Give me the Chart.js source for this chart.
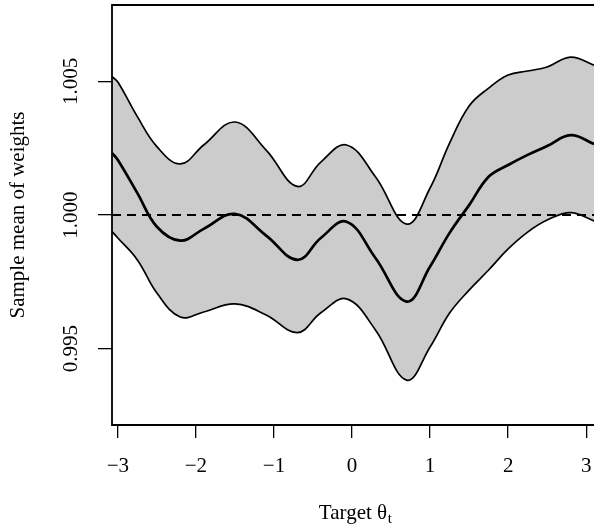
<!DOCTYPE html>
<html><head><meta charset="utf-8">
<script src="https://cdn.jsdelivr.net/npm/chart.js@4/dist/chart.umd.min.js"></script>
<style>html,body{margin:0;padding:0;background:#fff}</style>
</head><body>
<canvas id="c" width="594" height="529" style="display:block;width:594px;height:529px"></canvas>
<script>
const theta = [-3.075,-3.0,-2.75,-2.5,-2.2,-1.9,-1.5,-1.1,-0.7,-0.4,-0.07,0.3,0.7,1.0,1.25,1.5,1.75,2.0,2.25,2.5,2.8,3.1];
const upperBand = [1.00518,1.00498,1.00368,1.00256,1.00191,1.00262,1.00348,1.00243,1.00107,1.00198,1.00262,1.00143,0.99966,1.00101,1.00269,1.00408,1.00475,1.00524,1.00539,1.00554,1.00591,1.00561];
const meanWeights = [1.00232,1.00206,1.00082,0.99956,0.99904,0.99948,1.00004,0.99923,0.99832,0.99914,0.99975,0.99839,0.99676,0.99807,0.99933,1.00037,1.00143,1.00187,1.00225,1.00258,1.00299,1.00266];
const lowerBand = [0.99938,0.99914,0.99832,0.99708,0.99618,0.99637,0.99667,0.99626,0.99560,0.99634,0.99686,0.99570,0.99382,0.99506,0.99633,0.99719,0.99794,0.99873,0.99936,0.99981,1.00009,0.99978];
const refLevel = 1.0;
const xRange = [-3.075, 3.10];
const yRange = [0.99214, 1.00786];
const xTickValues = [-3,-2,-1,0,1,2,3];
const xTickLabels = ['\u22123','\u22122','\u22121','0','1','2','3'];
const yTickValues = [0.995,1.000,1.005];
const yTickLabels = ['0.995','1.000','1.005'];
const xTitle = 'Target \u03B8';
const xTitleSub = 't';
const yTitle = 'Sample mean of weights';

const FONT = 'Liberation Serif';
const pts = arr => theta.map((t,i)=>({x:t,y:arr[i]}));

const boxPlugin = {
  id:'box',
  afterDraw(chart){
    const {ctx, chartArea:a} = chart;
    ctx.save();
    ctx.strokeStyle='#000'; ctx.lineWidth=1.8;
    ctx.beginPath();
    ctx.moveTo(chart.width+2, a.top); ctx.lineTo(a.left, a.top);
    ctx.lineTo(a.left, a.bottom); ctx.lineTo(chart.width+2, a.bottom);
    ctx.stroke();
    const xs = chart.scales.x;
    ctx.font = '21px "'+FONT+'"';
    const w = ctx.measureText(xTitle).width;
    const cx = (xs.left+xs.right)/2;
    const ty = xs.bottom - 3 - 12.6;
    ctx.font = '15px "'+FONT+'"';
    ctx.fillStyle='#000'; ctx.textBaseline='middle'; ctx.textAlign='left';
    ctx.fillText(xTitleSub, cx + w/2 + 0.5, ty + 6);
    ctx.restore();
  }
};

new Chart(document.getElementById('c'), {
  type:'line',
  data:{datasets:[
    {label:'upper', data:pts(upperBand), borderColor:'#000', borderWidth:1.7, backgroundColor:'rgb(204,204,204)', fill:1, pointRadius:0, tension:0.4},
    {label:'lower', data:pts(lowerBand), borderColor:'#000', borderWidth:1.7, fill:false, pointRadius:0, tension:0.4},
    {label:'mean', data:pts(meanWeights), borderColor:'#000', borderWidth:2.7, fill:false, pointRadius:0, tension:0.4},
    {label:'reference', data:[{x:xRange[0],y:refLevel},{x:xRange[1],y:refLevel}], borderColor:'#000', borderWidth:1.8, borderDash:[9,6], fill:false, pointRadius:0}
  ]},
  options:{
    responsive:false, animation:false, devicePixelRatio:1,
    layout:{padding:{left:0,right:0,top:5,bottom:0}},
    plugins:{legend:{display:false}, tooltip:{enabled:false}, filler:{drawTime:'beforeDatasetsDraw'}},
    scales:{
      x:{type:'linear', min:xRange[0], max:xRange[1],
        afterBuildTicks:s=>{s.ticks = xTickValues.map(v=>({value:v}));},
        afterFit:s=>{s.height=104; s.paddingLeft=0; s.paddingRight=0;},
        ticks:{autoSkip:false, maxRotation:0, minRotation:0, padding:16, color:'#000', font:{family:FONT,size:21},
          callback:v=>{const i=xTickValues.indexOf(v); return i>=0?xTickLabels[i]:'';}},
        grid:{drawOnChartArea:false, drawTicks:true, tickLength:13, color:'#000', lineWidth:1.3},
        border:{display:false},
        title:{display:true, text:xTitle, color:'#000', font:{family:FONT,size:21}, padding:{top:0,bottom:3}}
      },
      y:{type:'linear', min:yRange[0], max:yRange[1],
        afterBuildTicks:s=>{s.ticks = yTickValues.map(v=>({value:v}));},
        afterFit:s=>{s.width=112; s.paddingTop=0; s.paddingBottom=0;},
        ticks:{autoSkip:false, minRotation:90, maxRotation:90, crossAlign:'center', padding:2.4, color:'#000', font:{family:FONT,size:21},
          callback:v=>{const i=yTickValues.findIndex(t=>Math.abs(t-v)<1e-9); return i>=0?yTickLabels[i]:'';}},
        grid:{drawOnChartArea:false, drawTicks:true, tickLength:14, color:'#000', lineWidth:1.3},
        border:{display:false},
        title:{display:true, text:yTitle, color:'#000', font:{family:FONT,size:21}, padding:{top:6,bottom:0}}
      }
    }
  },
  plugins:[boxPlugin]
});
</script>
</body></html>
